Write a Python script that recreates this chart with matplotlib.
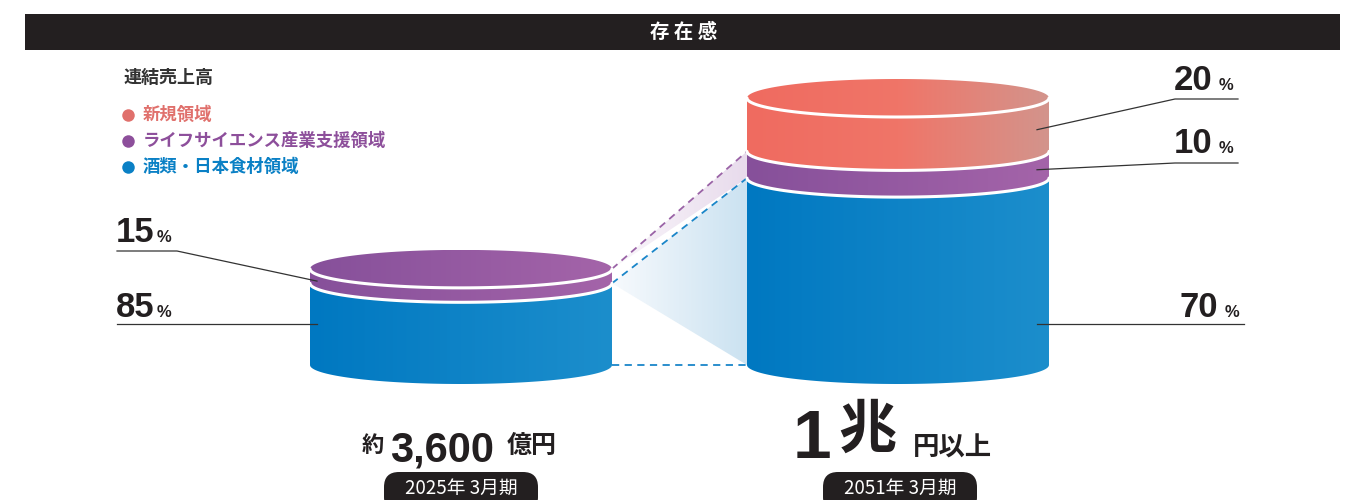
import numpy as np
import matplotlib
matplotlib.use('Agg')
import matplotlib.pyplot as plt
from matplotlib.path import Path
from matplotlib.patches import PathPatch, FancyBboxPatch, Rectangle
from matplotlib.colors import LinearSegmentedColormap

# data
categories = ['新規領域', 'ライフサイエンス産業支援領域', '酒類・日本食材領域']
periods = ['2025年 3月期', '2051年 3月期']
totals = [3600, 10000]          # 億円
shares_2025 = [0, 15, 85]       # %, same order as categories
shares_2051 = [20, 10, 70]

JP = ['Noto Sans CJK JP', 'DejaVu Sans']
NUM = ['Liberation Sans', 'DejaVu Sans']
DARK = '#231f20'

legend_colors = ['#e0706c', '#8d4f9b', '#0a80c5']
seg_colors = [['#ef6b60', '#f07568', '#d3948c'],
              ['#86509a', '#a464a9'],
              ['#0078c1', '#1c8ecc']]

# cylinder geometry (pixels)
CX = [461, 898]
RX = 151
RY = 19
BASE = 365
PX_PER = 267 / 10000


def front_arc(cx, y, n=80):
    t = np.linspace(np.pi, 0, n)
    return cx + RX * np.cos(t), y + RY * np.sin(t)


def body_path(cx, ytop, ybot):
    xb, yb = front_arc(cx, ybot)
    xt, yt = front_arc(cx, ytop)
    verts = [(cx - RX, ytop)] + list(zip(xb, yb)) + list(zip(xt[::-1], yt[::-1]))
    return Path(verts, closed=True)


def ellipse_path(cx, y):
    t = np.linspace(0, 2 * np.pi, 160)
    return Path(list(zip(cx + RX * np.cos(t), y + RY * np.sin(t))), closed=True)


def grad_fill(ax, path, colors, z):
    patch = PathPatch(path, fc='none', ec='none')
    ax.add_patch(patch)
    v = path.vertices
    cmap = LinearSegmentedColormap.from_list('g', colors)
    im = ax.imshow(np.linspace(0, 1, 256)[None, :], cmap=cmap,
                   extent=(v[:, 0].min(), v[:, 0].max(), v[:, 1].max(), v[:, 1].min()),
                   aspect='auto', interpolation='bilinear', zorder=z)
    im.set_clip_path(patch)


fig = plt.figure(figsize=(13.57, 5), dpi=100)
ax = fig.add_axes([0, 0, 1, 1])

# title bar
ax.add_patch(Rectangle((25, 14), 1315, 36, fc=DARK, ec='none', zorder=1))
ax.text(684, 32, '存 在 感', color='white', fontsize=14, fontweight='bold',
        family=JP, ha='center', va='center', zorder=2)

# legend
ax.text(124, 77, '連結売上高', color='#333333', fontsize=13, fontweight='bold',
        family=JP, ha='left', va='center')
for k, (name, col) in enumerate(zip(categories, legend_colors)):
    yy = 115 + 26 * k
    ax.plot(128, yy, 'o', ms=9, color=col, mec='none')
    ax.text(143, yy, name, color=col, fontsize=12.5, fontweight='bold',
            family=JP, ha='left', va='center')

# cylinders
bounds = []
for i, (total, shares) in enumerate(zip(totals, [shares_2025, shares_2051])):
    cx = CX[i]
    h = total * PX_PER
    y = BASE
    b = {}
    for k in reversed(range(len(categories))):
        if shares[k] == 0:
            continue
        ytop = y - h * shares[k] / 100
        grad_fill(ax, body_path(cx, ytop, y), seg_colors[k], 3)
        b[k] = (ytop, y)
        y = ytop
    top_k = min(b)
    grad_fill(ax, ellipse_path(cx, y), seg_colors[top_k], 3)
    for k in b:
        xa, ya = front_arc(cx, b[k][0])
        ax.plot(xa, ya, color='white', lw=2.2, zorder=4, solid_capstyle='round')
    bounds.append(b)

# connector between the two cylinders
xl, xr = CX[0] + RX, CX[1] - RX
lp, lb = bounds[0][1][0], bounds[0][2][0]
rp, rb = bounds[1][1][0], bounds[1][2][0]
grad_fill(ax, Path([(xl, lp), (xr, rp), (xr, rb), (xl, lb)], closed=True),
          ['#faf7fb', '#e8dbec'], 1)
grad_fill(ax, Path([(xl, lb), (xr, rb), (xr, BASE), (xl, BASE)], closed=True),
          ['#f7fafd', '#cbe2f1'], 1)
ax.plot([xl, xr], [lp, rp], color='#9a63a6', lw=1.3, ls=(0, (4, 3)), zorder=2)
ax.plot([xl, xr], [lb, rb], color='#1a86c9', lw=1.3, ls=(0, (4, 3)), zorder=2)
ax.plot([xl, xr], [BASE, BASE], color='#1a86c9', lw=1.3, ls=(0, (4, 3)), zorder=2)

# percentage labels with leader lines
label_layout = {
    (0, 1): dict(side='left', text_x=116, base=242, line_y=251, knee_x=177),
    (0, 2): dict(side='left', text_x=116, base=317, line_y=324, knee_x=None),
    (1, 0): dict(side='right', text_x=1233, base=90, line_y=99, knee_x=1175),
    (1, 1): dict(side='right', text_x=1233, base=153, line_y=163, knee_x=1175),
    (1, 2): dict(side='right', text_x=1239, base=317, line_y=324, knee_x=None),
}
all_shares = [shares_2025, shares_2051]
for (i, k), lay in label_layout.items():
    ytop, ybot = bounds[i][k]
    if lay['side'] == 'left':
        x_out, x_in = 117, CX[i] - RX + 7
        ax.text(lay['text_x'], lay['base'], str(all_shares[i][k]), family=NUM,
                fontweight='bold', fontsize=25, color=DARK, ha='left', va='baseline')
        ax.text(lay['text_x'] + 41, lay['base'], '%', family=NUM,
                fontweight='bold', fontsize=12, color=DARK, ha='left', va='baseline')
    else:
        x_out, x_in = lay['text_x'] + 5, CX[i] + RX - 12
        ax.text(lay['text_x'] - 21, lay['base'], str(all_shares[i][k]), family=NUM,
                fontweight='bold', fontsize=25, color=DARK, ha='right', va='baseline')
        ax.text(lay['text_x'], lay['base'], '%', family=NUM,
                fontweight='bold', fontsize=12, color=DARK, ha='right', va='baseline')
    if lay['knee_x'] is None:
        xs, ys = [x_out, x_in], [lay['line_y'], lay['line_y']]
    else:
        xs = [x_out, lay['knee_x'], x_in]
        ys = [lay['line_y'], lay['line_y'], (ytop + ybot) / 2 + 5]
    ax.plot(xs, ys, color='#333333', lw=0.9, zorder=6)

# totals under the cylinders
ax.text(373, 446, '約', family=JP, fontweight='bold', fontsize=16, color=DARK,
        ha='center', va='center')
ax.text(390, 461, '3,600', family=NUM, fontweight='bold', fontsize=30, color=DARK,
        ha='left', va='baseline')
ax.text(507, 446, '億円', family=JP, fontweight='bold', fontsize=18, color=DARK,
        ha='left', va='center')
ax.text(793, 458, '1', family=NUM, fontweight='bold', fontsize=50, color=DARK,
        ha='left', va='baseline')
ax.text(838, 431, '兆', family=JP, fontweight='bold', fontsize=42, color=DARK,
        ha='left', va='center')
ax.text(913, 448, '円以上', family=JP, fontweight='bold', fontsize=19, color=DARK,
        ha='left', va='center')

# period pills
for cxp, label in zip([461, 900], periods):
    ax.add_patch(FancyBboxPatch((cxp - 77, 472), 154, 40,
                                boxstyle='round,pad=0,rounding_size=15',
                                fc=DARK, ec='none', zorder=2))
    ax.text(cxp, 488, label, family=JP, fontsize=13.5, color='white',
            ha='center', va='center', zorder=3)

ax.set_xlim(0, 1357)
ax.set_ylim(500, 0)
ax.axis('off')
fig.savefig('out.png', dpi=100)
